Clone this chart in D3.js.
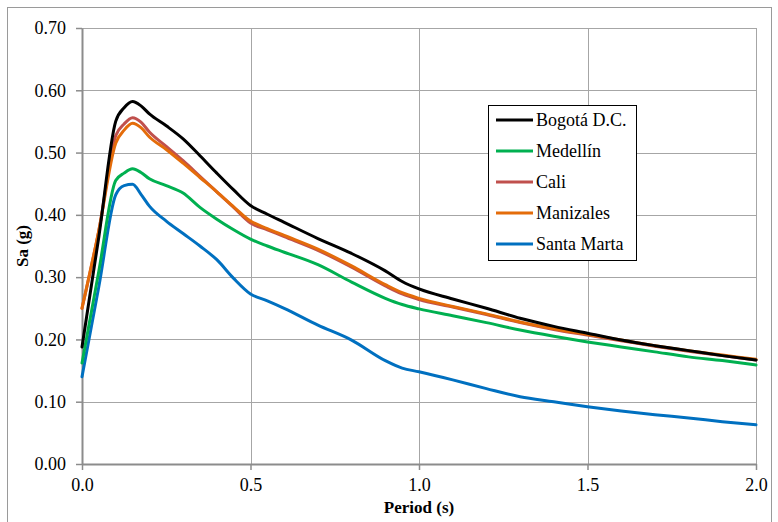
<!DOCTYPE html>
<html>
<head>
<meta charset="utf-8">
<script src="https://cdn.jsdelivr.net/npm/d3@7"></script>
<style>
  html, body { margin: 0; padding: 0; background: #fff; }
  svg { display: block; }
  text { font-family: "Liberation Serif", "Times New Roman", serif; fill: #000; }
</style>
</head>
<body>
<svg id="chart" width="778" height="522"></svg>
<script>
// Spectral periods (s)
const periods = [0, 0.05, 0.1, 0.125, 0.15, 0.175, 0.2, 0.25, 0.3, 0.35, 0.4, 0.45, 0.5,
  0.55, 0.6, 0.7, 0.8, 0.9, 0.95, 1.0, 1.1, 1.2, 1.3, 1.4, 1.5, 1.6, 1.7, 1.8, 1.9, 2.0];

// Spectral acceleration Sa (g) per city
const bogota = [0.188, 0.365, 0.55, 0.572, 0.582, 0.575, 0.562, 0.543, 0.522, 0.495, 0.467, 0.44, 0.415,
  0.401, 0.388, 0.362, 0.338, 0.31, 0.293, 0.281, 0.265, 0.25, 0.234, 0.221, 0.21, 0.199, 0.19, 0.182, 0.174, 0.167];
const medellin = [0.162, 0.31, 0.455, 0.467, 0.474, 0.468, 0.458, 0.447, 0.435, 0.412, 0.393, 0.376, 0.361,
  0.35, 0.34, 0.32, 0.292, 0.266, 0.256, 0.249, 0.238, 0.227, 0.215, 0.205, 0.196, 0.188, 0.18, 0.172, 0.166, 0.159];
const cali = [0.25, 0.375, 0.527, 0.546, 0.556, 0.549, 0.533, 0.51, 0.487, 0.462, 0.437, 0.412, 0.387,
  0.376, 0.365, 0.343, 0.316, 0.286, 0.273, 0.264, 0.252, 0.24, 0.227, 0.216, 0.207, 0.198, 0.189, 0.181, 0.174, 0.167];
const manizales = [0.25, 0.375, 0.515, 0.536, 0.547, 0.54, 0.525, 0.505, 0.483, 0.46, 0.437, 0.413, 0.39,
  0.378, 0.367, 0.345, 0.318, 0.288, 0.275, 0.266, 0.253, 0.241, 0.228, 0.217, 0.208, 0.199, 0.19, 0.182, 0.175, 0.168];
const santaMarta = [0.14, 0.285, 0.432, 0.447, 0.449, 0.433, 0.414, 0.39, 0.37, 0.35, 0.328, 0.298, 0.273,
  0.262, 0.25, 0.223, 0.199, 0.166, 0.154, 0.148, 0.135, 0.121, 0.108, 0.1, 0.092, 0.085, 0.079, 0.074, 0.068, 0.063];

const seriesNames = ["Bogotá D.C.", "Medellín", "Cali", "Manizales", "Santa Marta"];
const seriesValues = [bogota, medellin, cali, manizales, santaMarta];
const seriesColors = ["#000000", "#00b050", "#c0504d", "#e46c0a", "#0070c0"];

const xTicks = [0, 0.5, 1.0, 1.5, 2.0];
const yTicks = [0, 0.1, 0.2, 0.3, 0.4, 0.5, 0.6, 0.7];

const svg = d3.select("#chart");
const W = 778, H = 522;
const plot = { left: 82, right: 756, top: 28, bottom: 464 };

// outer chart frame
svg.append("rect")
  .attr("x", 7.5).attr("y", 7.5)
  .attr("width", 764).attr("height", 530)
  .attr("fill", "#fff").attr("stroke", "#9a9a9a").attr("stroke-width", 1);

const x = d3.scaleLinear().domain([0, 2]).range([plot.left, plot.right]);
const y = d3.scaleLinear().domain([0, 0.7]).range([plot.bottom, plot.top]);

// gridlines
const grid = svg.append("g");
grid.selectAll("line.h").data(yTicks.slice(1)).join("line")
  .attr("x1", plot.left).attr("x2", plot.right)
  .attr("y1", d => Math.round(y(d)) + 0.5).attr("y2", d => Math.round(y(d)) + 0.5)
  .attr("stroke", "#a6a6a6").attr("stroke-width", 1);
grid.selectAll("line.v").data(xTicks.slice(1)).join("line")
  .attr("y1", plot.top).attr("y2", plot.bottom)
  .attr("x1", d => Math.round(x(d)) + 0.5).attr("x2", d => Math.round(x(d)) + 0.5)
  .attr("stroke", "#a6a6a6").attr("stroke-width", 1);

// axes
const xAxis = d3.axisBottom(x).tickValues(xTicks).tickSizeInner(6).tickSizeOuter(0)
  .tickFormat(d3.format(".1f")).tickPadding(8);
const yAxis = d3.axisLeft(y).tickValues(yTicks).tickSizeInner(6).tickSizeOuter(0)
  .tickFormat(d3.format(".2f")).tickPadding(10);

const gx = svg.append("g").attr("transform", `translate(0,${plot.bottom})`).call(xAxis);
const gy = svg.append("g").attr("transform", `translate(${plot.left},0)`).call(yAxis);
[gx, gy].forEach(g => {
  g.select(".domain").attr("stroke", "#8c8c8c").attr("stroke-width", 2);
  g.selectAll(".tick line").attr("stroke", "#8c8c8c").attr("stroke-width", 1.5);
  g.selectAll(".tick text")
    .attr("font-family", "'Liberation Serif', 'Times New Roman', serif")
    .attr("font-size", 18).attr("fill", "#000");
});

// data lines
const line = d3.line()
  .x((d, i) => x(periods[i]))
  .y(d => y(d))
  .curve(d3.curveMonotoneX);

const drawOrder = [4, 1, 2, 3, 0];
svg.append("g").selectAll("path").data(drawOrder).join("path")
  .attr("d", k => line(seriesValues[k]))
  .attr("fill", "none")
  .attr("stroke", k => seriesColors[k])
  .attr("stroke-width", 3)
  .attr("stroke-linejoin", "round")
  .attr("stroke-linecap", "round");

// axis titles
svg.append("text")
  .attr("x", (plot.left + plot.right) / 2).attr("y", 513)
  .attr("text-anchor", "middle")
  .attr("font-size", 17).attr("font-weight", "bold")
  .text("Period (s)");
svg.append("text")
  .attr("transform", `translate(28,${(plot.top + plot.bottom) / 2}) rotate(-90)`)
  .attr("text-anchor", "middle")
  .attr("font-size", 17).attr("font-weight", "bold")
  .text("Sa (g)");

// legend
const lg = svg.append("g").attr("transform", "translate(488,105)");
lg.append("rect").attr("x", 0.5).attr("y", 0.5).attr("width", 148).attr("height", 155)
  .attr("fill", "#fff").attr("stroke", "#000").attr("stroke-width", 1);
const rows = lg.selectAll("g.row").data(seriesNames).join("g")
  .attr("transform", (d, i) => `translate(0,${15 + i * 31})`);
rows.append("line")
  .attr("x1", 8).attr("x2", 45).attr("y1", 0).attr("y2", 0)
  .attr("stroke", (d, i) => seriesColors[i]).attr("stroke-width", 3);
rows.append("text")
  .attr("x", 48).attr("y", 6)
  .attr("font-size", 18)
  .text(d => d);
</script>
</body>
</html>
